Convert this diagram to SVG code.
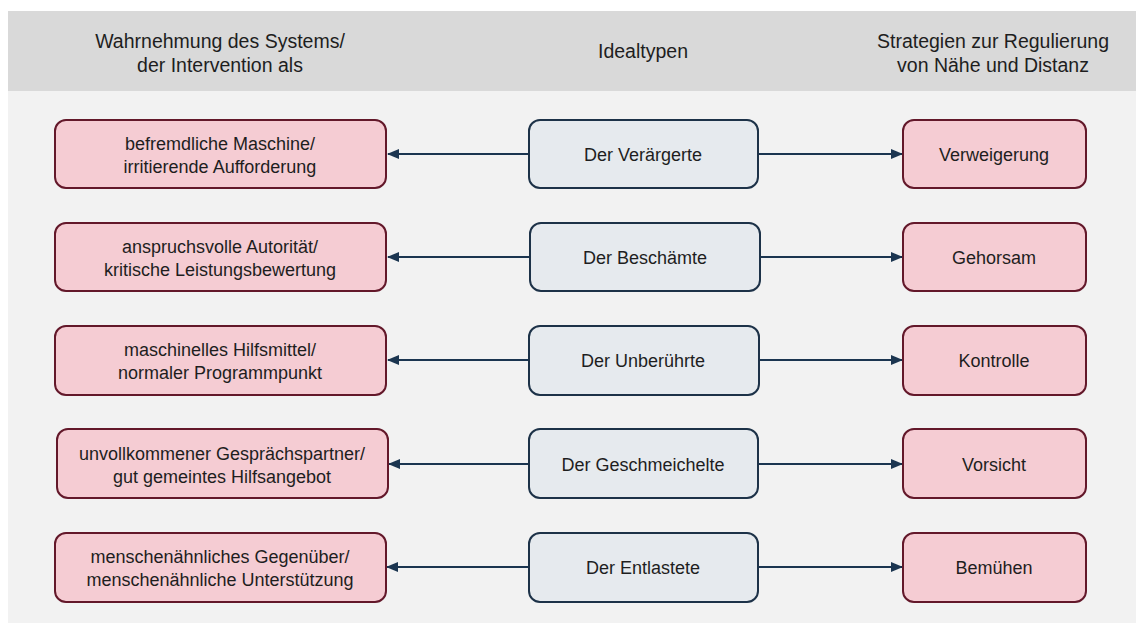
<svg xmlns="http://www.w3.org/2000/svg" width="1136" height="628" viewBox="0 0 1136 628">
<style>
text{font-family:"Liberation Sans",Arial,sans-serif;fill:#1e1e1e;text-anchor:middle}
.h{font-size:19.5px}
.t{font-size:18px}
.p{fill:#f5ccd3;stroke:#63182a;stroke-width:2}
.c{fill:#e6eaee;stroke:#1d3248;stroke-width:2}
.a{stroke:#1b3550;stroke-width:2;fill:none;marker-end:url(#ah)}
</style>
<defs>
<marker id="ah" markerWidth="12" markerHeight="10" refX="11" refY="5" orient="auto" markerUnits="userSpaceOnUse">
<path d="M0,0 L12,5 L0,10 Z" fill="#1b3550"/>
</marker>
</defs>
<rect x="0" y="0" width="1136" height="628" fill="#ffffff"/>
<rect x="8" y="91" width="1128" height="532" fill="#f2f2f2"/>
<rect x="8" y="11" width="1128" height="80" fill="#d9d9d9"/>
<g id="header">
<text class="h" x="220" y="48">Wahrnehmung des Systems/</text>
<text class="h" x="220" y="72">der Intervention als</text>
<text class="h" x="643" y="58">Idealtypen</text>
<text class="h" x="993" y="48">Strategien zur Regulierung</text>
<text class="h" x="993" y="72">von Nähe und Distanz</text>
</g>
<g id="connectors">
<line class="a" x1="529" y1="154" x2="388" y2="154"/>
<line class="a" x1="758" y1="154" x2="902" y2="154"/>
<line class="a" x1="529" y1="257" x2="388" y2="257"/>
<line class="a" x1="760" y1="257" x2="902" y2="257"/>
<line class="a" x1="528" y1="360" x2="388" y2="360"/>
<line class="a" x1="759" y1="360" x2="902" y2="360"/>
<line class="a" x1="529" y1="464" x2="389" y2="464"/>
<line class="a" x1="758" y1="464" x2="902" y2="464"/>
<line class="a" x1="529" y1="567" x2="387" y2="567"/>
<line class="a" x1="758" y1="567" x2="902" y2="567"/>
</g>
<g id="l1"><rect class="p" x="55" y="120" width="331" height="68" rx="11"/><text class="t" x="220" y="150">befremdliche Maschine/</text><text class="t" x="220" y="173">irritierende Aufforderung</text></g>
<g id="c1"><rect class="c" x="529" y="120" width="229" height="68" rx="11"/><text class="t" x="643" y="161">Der Verärgerte</text></g>
<g id="r1"><rect class="p" x="903" y="120" width="183" height="68" rx="11"/><text class="t" x="994" y="161">Verweigerung</text></g>

<g id="l2"><rect class="p" x="55" y="223" width="331" height="68" rx="11"/><text class="t" x="220" y="253">anspruchsvolle Autorität/</text><text class="t" x="220" y="276">kritische Leistungsbewertung</text></g>
<g id="c2"><rect class="c" x="530" y="223" width="230" height="68" rx="11"/><text class="t" x="645" y="264">Der Beschämte</text></g>
<g id="r2"><rect class="p" x="903" y="223" width="183" height="68" rx="11"/><text class="t" x="994" y="264">Gehorsam</text></g>

<g id="l3"><rect class="p" x="55" y="326" width="331" height="69" rx="11"/><text class="t" x="220" y="356">maschinelles Hilfsmittel/</text><text class="t" x="220" y="379">normaler Programmpunkt</text></g>
<g id="c3"><rect class="c" x="529" y="326" width="230" height="69" rx="11"/><text class="t" x="643" y="367">Der Unberührte</text></g>
<g id="r3"><rect class="p" x="903" y="326" width="183" height="69" rx="11"/><text class="t" x="994" y="367">Kontrolle</text></g>

<g id="l4"><rect class="p" x="57" y="429" width="331" height="69" rx="11"/><text class="t" x="222" y="460">unvollkommener Gesprächspartner/</text><text class="t" x="222" y="483">gut gemeintes Hilfsangebot</text></g>
<g id="c4"><rect class="c" x="529" y="429" width="229" height="69" rx="11"/><text class="t" x="643" y="471">Der Geschmeichelte</text></g>
<g id="r4"><rect class="p" x="903" y="429" width="183" height="69" rx="11"/><text class="t" x="994" y="471">Vorsicht</text></g>

<g id="l5"><rect class="p" x="55" y="533" width="331" height="69" rx="11"/><text class="t" x="220" y="563">menschenähnliches Gegenüber/</text><text class="t" x="220" y="586">menschenähnliche Unterstützung</text></g>
<g id="c5"><rect class="c" x="529" y="533" width="229" height="69" rx="11"/><text class="t" x="643" y="574">Der Entlastete</text></g>
<g id="r5"><rect class="p" x="903" y="533" width="183" height="69" rx="11"/><text class="t" x="994" y="574">Bemühen</text></g>
</svg>
